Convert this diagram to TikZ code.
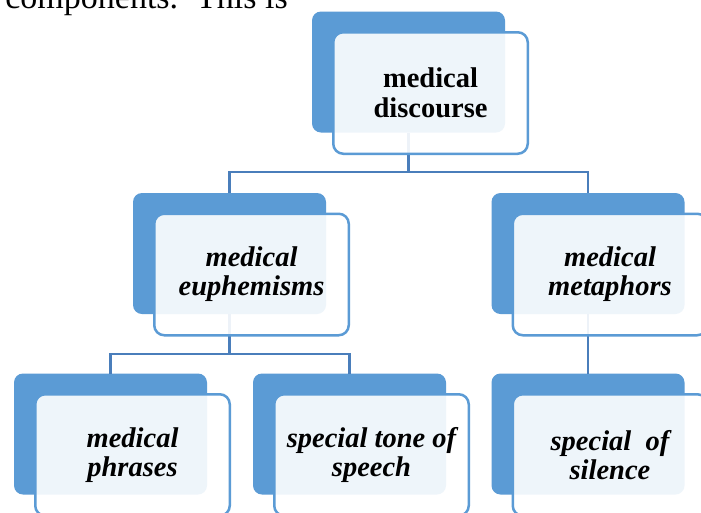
\documentclass[tikz,border=0pt]{standalone}
\usepackage{fontspec}
\setmainfont{Liberation Serif}
\definecolor{backblue}{HTML}{5B9BD5}
\definecolor{linkblue}{HTML}{4A7EBB}
\begin{document}
\begin{tikzpicture}[x=1pt,y=-1pt,
  backbox/.style={rectangle, rounded corners=9pt, fill=backblue,
    minimum width=193pt, minimum height=121pt, inner sep=0pt, outer sep=0pt},
  frontbox/.style={rectangle, rounded corners=10pt, draw=backblue, line width=2.5pt,
    fill=white, fill opacity=0.9, text opacity=1,
    minimum width=194.5pt, minimum height=121.5pt, inner sep=0pt, outer sep=0pt,
    align=center, font=\fontsize{28.5}{29}\selectfont\bfseries\itshape},
  conn/.style={draw=linkblue, line width=2.4pt}]
\clip (0,0) rectangle (701,512);
\fill[white] (0,0) rectangle (701,512);

% intro text (cut off at the top)
\node[anchor=base east, inner sep=0pt, font=\fontsize{34}{36}\selectfont] (intro) at (288,8) {components.\hspace{18pt}This is};

% back boxes
\node[backbox] (T)  at (408.5,72) {};
\node[backbox] (ML) at (229.5,253.5) {};
\node[backbox] (MR) at (588,253.5) {};
\node[backbox] (BL) at (110.5,434) {};
\node[backbox] (BM) at (349.5,434) {};
\node[backbox] (BR) at (588,434) {};

% bus coordinates
\coordinate (bus1) at (408.5,172);
\coordinate (bus2) at (229.5,354);

% connectors
\draw[conn] (T.south) -- (bus1) -| (ML.north);
\draw[conn] (bus1) -| (MR.north);
\draw[conn] (ML.south) -- (bus2) -| (BL.north);
\draw[conn] (bus2) -| (BM.north);
\draw[conn] (MR.south) -- (BR.north);

% front boxes with text
\node[frontbox, font=\fontsize{28.5}{30}\selectfont\bfseries] (Tf) at (430.5,93) {medical\\discourse};
\node[frontbox] (MLf) at (251.5,274.5) {medical\\euphemisms};
\node[frontbox] (MRf) at (610,274.5) {medical\\metaphors};
\node[frontbox] (BLf) at (132.5,455) {medical\\phrases};
\node[frontbox] (BMf) at (371.5,455) {special tone of\\speech};
\node[frontbox] (BRf) at (610,455) {special\ \ of\\silence};
\end{tikzpicture}
\end{document}
